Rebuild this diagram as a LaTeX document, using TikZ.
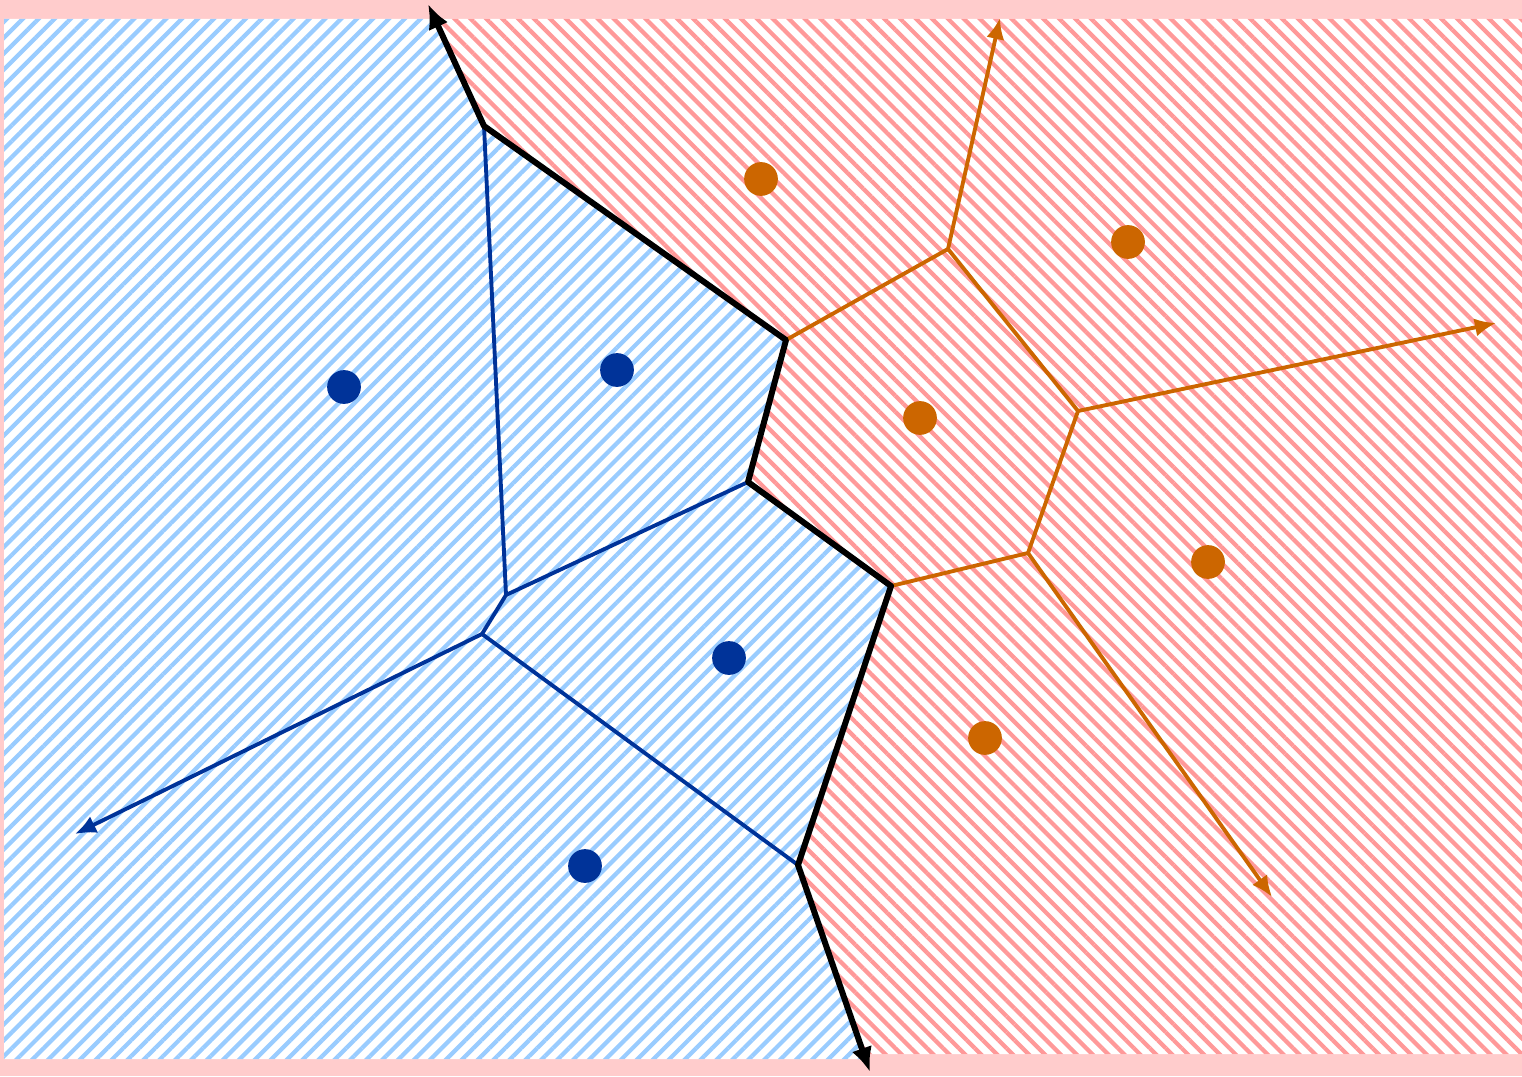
\documentclass[tikz,border=0pt]{standalone}
\usetikzlibrary{arrows.meta,patterns.meta}
\definecolor{bgpink}{HTML}{FFCCCC}
\definecolor{hatchblue}{HTML}{99CCFF}
\definecolor{hatchred}{HTML}{FF9999}
\definecolor{siteblue}{HTML}{003399}
\definecolor{siteorange}{HTML}{CC6600}
\tikzset{
  cellblue/.style={preaction={fill=white},
    pattern={Lines[angle=45,distance=3.2pt,line width=1.2pt]},pattern color=hatchblue},
  cellred/.style={preaction={fill=white},
    pattern={Lines[angle=-45,distance=3.2pt,line width=1.2pt]},pattern color=hatchred},
  border/.style={line width=1.7pt,black,line join=round},
  edgeblue/.style={line width=1.1pt,siteblue,line join=round},
  edgeorange/.style={line width=1.1pt,siteorange,line join=round},
  ray/.style={-{Latex[length=6pt,width=5.2pt]}},
}
\begin{document}
\begin{tikzpicture}[x=0.01cm,y=-0.01cm]
    \fill[bgpink] (0,0) rectangle (1522,1076);
    \useasboundingbox (0,0) rectangle (1522,1076);
    % Voronoi vertices
    \coordinate (A) at (484,126);
    \coordinate (B) at (786,340);
    \coordinate (C) at (748,482);
    \coordinate (D) at (891,586);
    \coordinate (E) at (798,865);
    \coordinate (F) at (506,595);
    \coordinate (G) at (482,634);
    \coordinate (H) at (948,249);
    \coordinate (I) at (1078,411);
    \coordinate (J) at (1028,553);
    % ends of the unbounded edges
    \coordinate (Ttop) at (428,4);
    \coordinate (Tbot) at (870,1072);
    \coordinate (Tblue) at (75,834);
    \coordinate (Tor1) at (1000,18);
    \coordinate (Tor2) at (1496,323);
    \coordinate (Tor3) at (1272,897);
    % the two classes
    \path[cellblue] (4,19) -- (435,19) -- (A) -- (B) -- (C) -- (D) -- (E)
      -- (865,1059) -- (4,1059) -- cycle;
    \path[cellred] (435,19) -- (1522,19) -- (1522,1054) -- (864,1054) -- (E)
      -- (D) -- (C) -- (B) -- (A) -- cycle;
    % Edges between blue cells
    \draw[edgeblue] (A) -- (F) -- (C);
    \draw[edgeblue] (F) -- (G) -- (E);
    \draw[edgeblue,ray] (G) -- (Tblue);
    % Edges between orange cells
    \draw[edgeorange] (B) -- (H) -- (I) -- (J) -- (D);
    \draw[edgeorange,ray] (H) -- (Tor1);
    \draw[edgeorange,ray] (I) -- (Tor2);
    \draw[edgeorange,ray] (J) -- (Tor3);
    % Decision boundary
    \draw[border,{Latex[length=7pt,width=6pt]}-{Latex[length=7pt,width=6pt]}]
      (Ttop) -- (A) -- (B) -- (C) -- (D) -- (E) -- (Tbot);
    % Sites
    \foreach \p in {(344,387),(617,370),(729,658),(585,866)}
      \fill[siteblue] \p circle (4.8pt);
    \foreach \p in {(761,179),(1128,242),(920,418),(1208,562),(985,738)}
      \fill[siteorange] \p circle (4.8pt);
\end{tikzpicture}
\end{document}
